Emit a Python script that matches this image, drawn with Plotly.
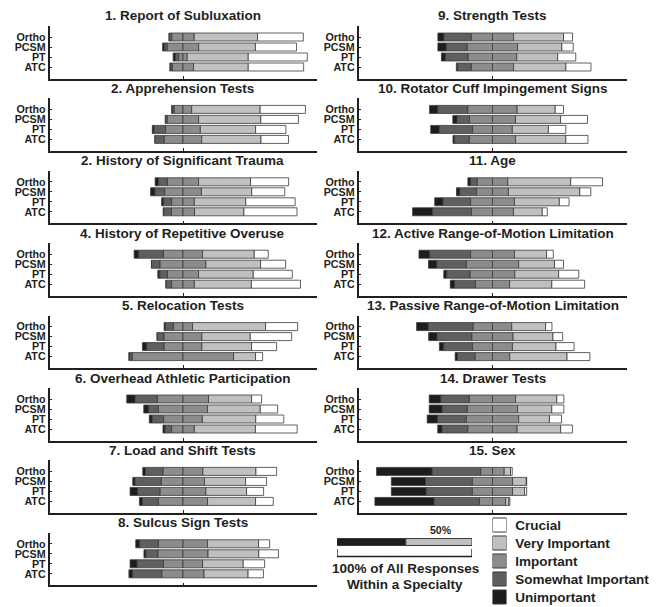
import plotly.graph_objects as go

# ---------------- data (percent of responses within a specialty) ----------------
SPECIALTIES = ['Ortho', 'PCSM', 'PT', 'ATC']
TITLES = [
    '1. Report of Subluxation',
    '2. Apprehension Tests',
    '2. History of Significant Trauma',
    '4. History of Repetitive Overuse',
    '5. Relocation Tests',
    '6. Overhead Athletic Participation',
    '7. Load and Shift Tests',
    '8. Sulcus Sign Tests',
    '9. Strength Tests',
    '10. Rotator Cuff Impingement Signs',
    '11. Age',
    '12. Active Range-of-Motion Limitation',
    '13. Passive Range-of-Motion Limitation',
    '14. Drawer Tests',
    '15. Sex',
]
CATEGORY_NAMES = ['Unimportant', 'Somewhat Important', 'Important', 'Very Important', 'Crucial']
COLORS = ['#1d1d1d', '#5f5f5f', '#8c8c8c', '#c0c0c0', '#ffffff']

# each row: [Ortho, PCSM, PT, ATC]
UNIMPORTANT = [
    [0, 1.5, 1.75, 0.5],
    [0.5, 0, 1.3, 0],
    [2.5, 3.25, 1.5, 0.5],
    [3.5, 0, 1.5, 0],
    [1, 0, 3.25, 0.75],
    [6.25, 3.75, 2.25, 1.5],
    [2, 1.75, 5.75, 2.25],
    [3, 1.5, 5.25, 2.75],
    [4.5, 6.25, 3, 1],
    [6.2, 3.25, 6.4, 1.25],
    [2, 2.5, 6.25, 15],
    [8, 6.25, 2.25, 3.25],
    [8.75, 6.25, 3.25, 1.75],
    [8.75, 9.75, 7.75, 3.25],
    [41.5, 25.5, 26, 44.25],
]
SOMEWHAT = [
    [2, 2, 2.5, 1.5],
    [1.5, 1.5, 8.7, 7],
    [6.75, 7.25, 6, 5.75],
    [18.5, 6.5, 5.75, 4.25],
    [6, 5.25, 13, 2],
    [16.75, 7.25, 8.5, 5],
    [13.25, 19.75, 16.75, 12],
    [14, 9, 19.75, 22],
    [20.5, 15.75, 17, 10.25],
    [22.4, 9.25, 24.9, 11],
    [5, 12.5, 20.5, 29],
    [30.5, 22, 17.5, 15.5],
    [33.5, 26, 21.5, 13.25],
    [21.25, 18.75, 21.5, 19.25],
    [36.25, 35, 34.5, 33.75],
]
IMPORTANT = [
    [16.75, 23.5, 6.25, 15.75],
    [13, 23.4, 26, 28],
    [23.25, 27.5, 17, 17.25],
    [29.25, 34.25, 23.25, 17],
    [14.25, 28.25, 28.25, 75.75],
    [38.25, 36.75, 29, 17],
    [29.75, 32.25, 34.25, 36.75],
    [36.75, 37.5, 29.25, 31.5],
    [31.5, 37.5, 36.25, 31.5],
    [36.8, 34.25, 29.6, 34.5],
    [22.75, 23.75, 32.75, 31.25],
    [32.75, 39, 33.25, 25.5],
    [28.75, 30.75, 29.75, 25.75],
    [34.5, 37.5, 39, 36.75],
    [17.5, 30, 30, 19.5],
]
VERY_IMPORTANT = [
    [47.5, 42.5, 45.75, 41],
    [51.3, 46.6, 41.4, 44.4],
    [39, 37.75, 38.5, 37],
    [38.75, 41, 41, 42.75],
    [54.75, 36.25, 37.25, 16.5],
    [32.25, 39.5, 40, 45.75],
    [39.75, 30.75, 30.5, 36],
    [38.25, 38, 30.5, 33],
    [37.25, 33, 30.5, 39],
    [28.4, 33.75, 26.9, 37.5],
    [47, 53.25, 33.5, 21.5],
    [24, 26.75, 32.75, 31.5],
    [25.25, 29.75, 32.5, 42.75],
    [30.75, 25.5, 23, 32.5],
    [4.75, 10.25, 9, 2.5],
]
CRUCIAL = [
    [34.25, 30.75, 44.25, 41.5],
    [33.9, 28.2, 22.7, 20.6],
    [28.5, 24.75, 37, 39.75],
    [10.5, 18.75, 29.25, 36.75],
    [24, 31, 18.75, 5.25],
    [7.5, 13, 21, 31.25],
    [15.5, 15.75, 12.75, 13.25],
    [8.25, 14.75, 16, 11.5],
    [6.75, 8.5, 13.5, 18.75],
    [6.2, 20, 13, 16.5],
    [23.75, 8.25, 7.25, 3.75],
    [5, 6.75, 15, 24.5],
    [4.75, 7.25, 13.5, 17],
    [5.25, 9, 9, 8.75],
    [1.25, 0.25, 1.5, 0.75],
]
KEY_SPLIT = [51, 49]          # scale key: half of all responses
LEGEND_SWATCH = [1, 1, 1, 1, 1]

# ---------------- layout helpers ----------------
W, H = 662, 607
TXT = '#231f20'
FONT = 'Liberation Sans, Arial, sans-serif'
OUTLINE = dict(color='#3a3a3a', width=0.8)


def px_x(p):
    return p / W


def px_y(p):
    return 1 - p / H


fig = go.Figure()
layout = dict(
    width=W, height=H, margin=dict(l=0, r=0, t=0, b=0),
    paper_bgcolor='white', plot_bgcolor='white',
    barmode='overlay', showlegend=False,
    font=dict(family=FONT, color=TXT),
)
annotations = []
shapes = []

for i, title in enumerate(TITLES):
    col, row = divmod(i, 8)
    T = 16 + 72.4 * row
    if col == 0:
        x0, x1, cx = 49.5, 316.5, 183
    else:
        x0, x1, cx = 358.5, 626.5, 492.5
    n = '' if i == 0 else str(i + 1)
    xa, ya = 'x' + n, 'y' + n

    u, s, imp, vi, cr = UNIMPORTANT[i], SOMEWHAT[i], IMPORTANT[i], VERY_IMPORTANT[i], CRUCIAL[i]
    base = [-(u[k] + s[k] + imp[k] / 2) for k in range(4)]
    segs = [
        (u, COLORS[0]),
        (s, COLORS[1]),
        ([v / 2 for v in imp], COLORS[2]),
        ([v / 2 for v in imp], COLORS[2]),
        (vi, COLORS[3]),
        (cr, COLORS[4]),
    ]
    for vals, color in segs:
        fig.add_trace(go.Bar(
            orientation='h', y=SPECIALTIES, x=vals, base=list(base),
            width=0.8, marker=dict(color=color, line=OUTLINE),
            xaxis=xa, yaxis=ya, hoverinfo='skip',
        ))
        base = [base[k] + vals[k] for k in range(4)]

    layout['xaxis' + n] = dict(
        domain=[px_x(x0), px_x(x1)], anchor=ya, range=[-100, 100],
        showgrid=False, zeroline=False, showline=True, linecolor=TXT, linewidth=1.5,
        ticks='inside', tickvals=[0], ticklen=3, tickwidth=1.2, tickcolor=TXT,
        showticklabels=False, fixedrange=True,
    )
    layout['yaxis' + n] = dict(
        domain=[px_y(T + 62.5), px_y(T + 10)], anchor=xa,
        type='category', categoryarray=SPECIALTIES[::-1], categoryorder='array',
        range=[-1.15, 4.1], tickmode='array', tickvals=SPECIALTIES, ticktext=SPECIALTIES,
        showgrid=False, zeroline=False, showline=True, linecolor=TXT, linewidth=1.5,
        ticks='inside', ticklen=3, tickwidth=1.2, tickcolor=TXT,
        tickfont=dict(family=FONT, size=10.7, color=TXT, weight='bold'),
        fixedrange=True,
    )
    annotations.append(dict(
        text=title, xref='paper', yref='paper', x=px_x(cx), y=px_y(T),
        xanchor='center', yanchor='middle', showarrow=False,
        font=dict(family=FONT, size=13.5, color=TXT, weight='bold'),
    ))

# ---------------- category legend (swatches with labels) ----------------
fig.add_trace(go.Bar(
    orientation='h', y=CATEGORY_NAMES, x=LEGEND_SWATCH, width=0.78,
    marker=dict(color=COLORS, line=dict(color='#3a3a3a', width=1)),
    xaxis='x16', yaxis='y16', hoverinfo='skip',
))
layout['xaxis16'] = dict(domain=[px_x(492.5), px_x(506.5)], anchor='y16', range=[0, 1],
                         visible=False, fixedrange=True)
layout['yaxis16'] = dict(domain=[px_y(606), px_y(516)], anchor='x16', side='right',
                         type='category', categoryarray=CATEGORY_NAMES, categoryorder='array',
                         range=[-0.5, 4.5], tickmode='array', tickvals=CATEGORY_NAMES,
                         ticktext=CATEGORY_NAMES,
                         showgrid=False, zeroline=False, showline=False,
                         ticks='outside', ticklen=5, tickcolor='rgba(0,0,0,0)',
                         tickfont=dict(family=FONT, size=13.5, color=TXT, weight='bold'),
                         fixedrange=True)

# ---------------- scale key ----------------
kb = 0
for val, color in zip(KEY_SPLIT, [COLORS[0], COLORS[3]]):
    fig.add_trace(go.Bar(
        orientation='h', y=[18], x=[val], base=[kb], width=7,
        marker=dict(color=color, line=dict(color='#3a3a3a', width=1)),
        xaxis='x17', yaxis='y17', hoverinfo='skip',
    ))
    kb += val
layout['xaxis17'] = dict(domain=[px_x(337), px_x(472)], anchor='y17', range=[0, 100],
                         visible=False, fixedrange=True)
layout['yaxis17'] = dict(domain=[px_y(560), px_y(528)], anchor='x17', range=[0, 32],
                         visible=False, fixedrange=True)
shapes.append(dict(type='path', xref='x17', yref='y17',
                   path='M 0,11 L 0,3.5 L 100,3.5 L 100,11',
                   line=dict(color=TXT, width=1.3)))
annotations.append(dict(text='50%', xref='x17', yref='y17', x=77, y=30,
                        xanchor='center', yanchor='middle', showarrow=False,
                        font=dict(family=FONT, size=10.5, color=TXT, weight='bold')))
annotations.append(dict(text='100% of All Responses', xref='paper', yref='paper',
                        x=px_x(405), y=px_y(568), xanchor='center', yanchor='middle',
                        showarrow=False,
                        font=dict(family=FONT, size=13.5, color=TXT, weight='bold')))
annotations.append(dict(text='Within a Specialty', xref='paper', yref='paper',
                        x=px_x(405), y=px_y(584), xanchor='center', yanchor='middle',
                        showarrow=False,
                        font=dict(family=FONT, size=13.5, color=TXT, weight='bold')))

layout['annotations'] = annotations
layout['shapes'] = shapes
fig.update_layout(**layout)
fig.write_html('out.html', config={'displayModeBar': False},
               post_script="document.body.style.margin='0';")
